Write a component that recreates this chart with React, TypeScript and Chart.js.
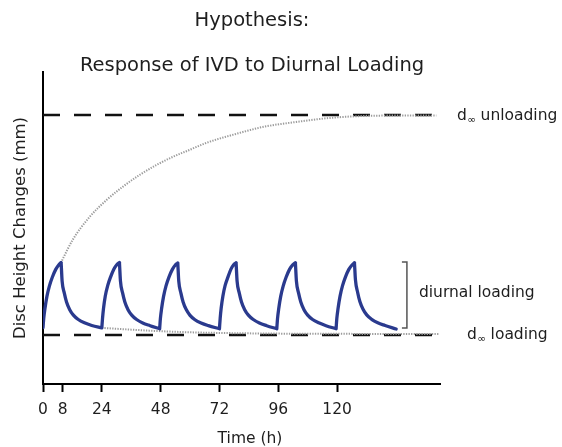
import React, { useEffect, useRef } from "react";
import { Chart, registerables } from "chart.js";

Chart.register(...registerables);

// ---------- text ----------
const titleLines = ["Hypothesis:", "Response of IVD to Diurnal Loading"];
const xAxisTitle = "Time (h)";
const yAxisTitle = "Disc Height Changes (mm)";
const unloadingLabel = ["d", "\u221E", "unloading"];
const loadingLabel = ["d", "\u221E", "loading"];
const diurnalLabel = "diurnal loading";

// ---------- axes ----------
const xTickValues = [0, 8, 24, 48, 72, 96, 120];
const xMin = 0;
const xMax = 162;
const yMin = -2.23;
const yMax = 11.95;

// ---------- reference levels ----------
const unloadingLevel = 10;
const loadingLevel = 0;
const levelTimes = [0, 162];

// ---------- diurnal cycles (blue) ----------
const cycleRiseTimes = [
  [0, 0.3, 0.8, 1.6, 2.6, 3.8, 5.2, 6.4, 7.4],
  [24, 24.3, 24.7, 25.4, 26.4, 27.6, 28.9, 30.1, 31.2],
  [47.6, 47.9, 48.4, 49.2, 50.2, 51.4, 52.8, 54, 55.0],
  [72, 72.3, 72.7, 73.4, 74.3, 75.5, 76.7, 77.8, 78.8],
  [95.4, 95.7, 96.2, 97, 98, 99.2, 100.6, 101.9, 103],
  [119.6, 119.9, 120.4, 121.2, 122.2, 123.4, 124.8, 126.1, 127.1],
];
const cycleRiseHeights = [
  [0.33, 0.75, 1.2, 1.75, 2.22, 2.62, 2.98, 3.18, 3.29],
  [0.32, 0.76, 1.21, 1.76, 2.24, 2.64, 2.99, 3.19, 3.29],
  [0.28, 0.74, 1.2, 1.75, 2.23, 2.63, 2.98, 3.18, 3.27],
  [0.28, 0.75, 1.21, 1.76, 2.24, 2.64, 2.99, 3.19, 3.28],
  [0.28, 0.74, 1.2, 1.75, 2.22, 2.62, 2.98, 3.18, 3.28],
  [0.29, 0.75, 1.2, 1.75, 2.23, 2.63, 2.98, 3.18, 3.28],
];
const cycleDecayTimes = [
  [7.4, 7.8, 8.7, 9.6, 10.9, 12.4, 14.4, 16.9, 19.9, 24],
  [31.2, 31.6, 32.5, 33.4, 34.7, 36.2, 38.2, 40.7, 43.7, 47.6],
  [55.0, 55.4, 56.3, 57.2, 58.5, 60, 62, 64.5, 67.5, 72],
  [78.8, 79.2, 80.1, 81, 82.3, 83.8, 85.8, 88.3, 91.3, 95.4],
  [103, 103.4, 104.3, 105.2, 106.5, 108, 110, 112.5, 115.5, 119.6],
  [127.1, 127.5, 128.4, 129.3, 130.6, 132.1, 134.1, 136.6, 139.6, 144.1],
];
const cycleDecayHeights = [
  [3.29, 2.45, 1.9, 1.5, 1.15, 0.9, 0.7, 0.55, 0.43, 0.32],
  [3.29, 2.46, 1.9, 1.5, 1.15, 0.9, 0.7, 0.54, 0.42, 0.28],
  [3.27, 2.45, 1.89, 1.49, 1.14, 0.89, 0.69, 0.54, 0.42, 0.28],
  [3.28, 2.45, 1.9, 1.5, 1.15, 0.9, 0.7, 0.54, 0.42, 0.28],
  [3.28, 2.46, 1.9, 1.5, 1.15, 0.9, 0.7, 0.55, 0.42, 0.28],
  [3.28, 2.5, 1.93, 1.52, 1.17, 0.91, 0.71, 0.55, 0.43, 0.27],
];

// ---------- asymptotic responses (grey dotted) ----------
const upperGreyTimes = [7.3, 12.1, 19, 26, 32.5, 39.4, 46.4, 52.9, 59.8, 66.7, 80.2, 89.6, 103.4, 116.9, 130.3, 145, 160.5];
const upperGreyHeights = [3.28, 4.32, 5.36, 6.14, 6.73, 7.27, 7.73, 8.09, 8.41, 8.73, 9.18, 9.45, 9.68, 9.86, 9.95, 9.97, 9.97];
const lowerGreyTimes = [24, 36, 48, 60, 72, 96, 120, 161.5];
const lowerGreyHeights = [0.32, 0.24, 0.17, 0.12, 0.09, 0.06, 0.05, 0.04];

// ---------- diurnal range bracket ----------
const bracketTime = 148.5;
const bracketRange = [3.32, 0.32];

const FONT = '"DejaVu Sans", sans-serif';
const TEXT = "#1e1e1e";

function buildBlue() {
  const pts: { x: number; y: number | null }[] = [];
  const push = (ts: number[], hs: number[]) => {
    ts.forEach((t, i) => pts.push({ x: t, y: hs[i] }));
    pts.push({ x: ts[ts.length - 1], y: null });
  };
  for (let c = 0; c < cycleRiseTimes.length; c++) {
    push(cycleRiseTimes[c], cycleRiseHeights[c]);
    push(cycleDecayTimes[c], cycleDecayHeights[c]);
  }
  return pts;
}

const zip = (ts: number[], hs: number[]) => ts.map((t, i) => ({ x: t, y: hs[i] }));

const annotations = {
  id: "annotations",
  afterDraw(chart: any) {
    const ctx = chart.ctx as CanvasRenderingContext2D;
    const area = chart.chartArea;
    const xs = chart.scales.x;
    const ys = chart.scales.y;
    ctx.save();
    ctx.fillStyle = TEXT;
    ctx.textBaseline = "middle";
    ctx.textAlign = "center";

    // titles
    ctx.font = `19.5px ${FONT}`;
    ctx.fillText(titleLines[0], 252, 21);
    ctx.fillText(titleLines[1], 252, 66);

    // x title
    ctx.font = `15.5px ${FONT}`;
    ctx.fillText(xAxisTitle, 250, 439);

    // y title
    ctx.save();
    ctx.translate(20.5, (area.top + area.bottom) / 2);
    ctx.rotate(-Math.PI / 2);
    ctx.font = `16.5px ${FONT}`;
    ctx.fillText(yAxisTitle, 0, 0);
    ctx.restore();

    // d-infinity labels
    ctx.textAlign = "left";
    const drawD = (parts: string[], x: number, y: number) => {
      ctx.font = `15.5px ${FONT}`;
      ctx.fillText(parts[0], x, y);
      const wd = ctx.measureText(parts[0]).width;
      ctx.font = `10.5px ${FONT}`;
      ctx.fillText(parts[1], x + wd + 0.5, y + 4);
      const wi = ctx.measureText(parts[1]).width;
      ctx.font = `15.5px ${FONT}`;
      ctx.fillText(parts[2], x + wd + wi + 5, y);
    };
    drawD(unloadingLabel, 457, ys.getPixelForValue(unloadingLevel) + 1);
    drawD(loadingLabel, 467, ys.getPixelForValue(loadingLevel) + 0);

    // bracket
    const bx = xs.getPixelForValue(bracketTime);
    const bt = ys.getPixelForValue(bracketRange[0]);
    const bb = ys.getPixelForValue(bracketRange[1]);
    ctx.strokeStyle = "#555";
    ctx.lineWidth = 1.5;
    ctx.beginPath();
    ctx.moveTo(bx - 5, bt);
    ctx.lineTo(bx, bt);
    ctx.lineTo(bx, bb);
    ctx.lineTo(bx - 5, bb);
    ctx.stroke();

    ctx.font = `15.5px ${FONT}`;
    ctx.fillText(diurnalLabel, bx + 12, (bt + bb) / 2 - 2);
    ctx.restore();
  },
};

export default function App() {
  const ref = useRef<HTMLCanvasElement | null>(null);

  useEffect(() => {
    if (!ref.current) return;
    Chart.defaults.font.family = FONT;
    const chart = new Chart(ref.current, {
      type: "line",
      data: {
        datasets: [
          {
            label: "diurnal",
            data: buildBlue(),
            borderColor: "#2a3a8e",
            borderWidth: 3.3,
            pointRadius: 0,
            cubicInterpolationMode: "monotone",
            spanGaps: false,
            borderCapStyle: "round",
            borderJoinStyle: "round",
            fill: false,
            order: 1,
          },
          {
            label: "unloading response",
            data: zip(upperGreyTimes, upperGreyHeights),
            borderColor: "#9c9c9c",
            borderWidth: 2,
            borderDash: [1.3, 1.3],
            pointRadius: 0,
            cubicInterpolationMode: "monotone",
            fill: false,
            order: 2,
          },
          {
            label: "loading response",
            data: zip(lowerGreyTimes, lowerGreyHeights),
            borderColor: "#9c9c9c",
            borderWidth: 2,
            borderDash: [1.3, 1.3],
            pointRadius: 0,
            cubicInterpolationMode: "monotone",
            fill: false,
            order: 2,
          },
          {
            label: "d inf unloading",
            data: levelTimes.map((t) => ({ x: t, y: unloadingLevel })),
            borderColor: "#111",
            borderWidth: 2.5,
            borderDash: [17, 14],
            pointRadius: 0,
            fill: false,
            order: 3,
          },
          {
            label: "d inf loading",
            data: levelTimes.map((t) => ({ x: t, y: loadingLevel })),
            borderColor: "#111",
            borderWidth: 2.5,
            borderDash: [17, 14],
            pointRadius: 0,
            fill: false,
            order: 3,
          },
        ],
      },
      options: {
        animation: false,
        responsive: false,
        devicePixelRatio: 1,
        events: [],
        layout: { padding: { top: 72, right: 122, left: 0, bottom: 0 } },
        plugins: {
          legend: { display: false },
          tooltip: { enabled: false },
          title: { display: false },
        },
        scales: {
          x: {
            type: "linear",
            min: xMin,
            max: xMax,
            afterBuildTicks: (scale: any) => {
              scale.ticks = xTickValues.map((v) => ({ value: v }));
            },
            afterFit: (scale: any) => {
              scale.height = 63;
            },
            ticks: {
              autoSkip: false,
              maxRotation: 0,
              padding: 9,
              color: TEXT,
              font: { size: 15.5, family: FONT },
              callback: (v: any) => String(v),
            },
            grid: {
              display: true,
              drawOnChartArea: false,
              drawTicks: true,
              tickLength: 8,
              tickWidth: 2,
              tickColor: "#000",
              color: "#000",
            },
            border: { display: true, color: "#000", width: 2 },
          },
          y: {
            type: "linear",
            min: yMin,
            max: yMax,
            afterFit: (scale: any) => {
              scale.width = 43;
            },
            ticks: { display: false },
            grid: { display: false },
            border: { display: true, color: "#000", width: 2 },
          },
        },
      },
      plugins: [annotations],
    });
    return () => chart.destroy();
  }, []);

  return (
    <div style={{ position: "fixed", left: 0, top: 0, width: 562, height: 447, background: "#fff" }}>
      <canvas ref={ref} width={562} height={447} style={{ display: "block" }} />
    </div>
  );
}
